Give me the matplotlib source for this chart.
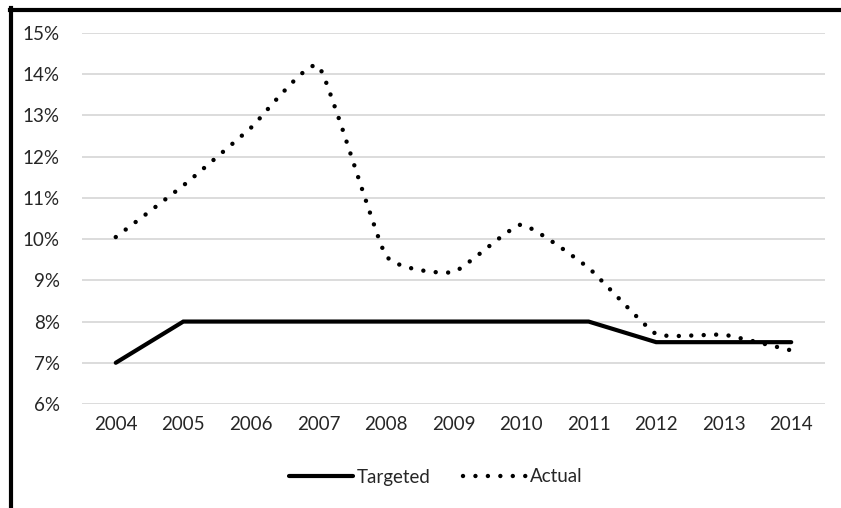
import numpy as np
import matplotlib
matplotlib.use('Agg')
import matplotlib.pyplot as plt
from matplotlib.path import Path
from matplotlib.patches import PathPatch
from matplotlib.lines import Line2D
from matplotlib.ticker import FuncFormatter

plt.rcParams['font.family'] = ['Lato', 'DejaVu Sans']

years = ['2004', '2005', '2006', '2007', '2008', '2009', '2010', '2011', '2012', '2013', '2014']
targeted = [7.0, 8.0, 8.0, 8.0, 8.0, 8.0, 8.0, 8.0, 7.5, 7.5, 7.5]
actual = [10.05, 11.3, 12.7, 14.2, 9.6, 9.2, 10.35, 9.3, 7.7, 7.68, 7.3]

txt = '#262626'
dot_style = (0, (0.001, 2.8))

fig = plt.figure(figsize=(8.41, 5.08), dpi=100)
ax = fig.add_axes([82/841, 104/508, 743/841, 371/508])

x = np.arange(len(years))
ax.plot(x, targeted, color='black', lw=3.0, solid_capstyle='round', solid_joinstyle='miter', zorder=3)


# lightly smoothed line (bezier through the points)
def smooth_path(xs, ys, k=0.07):
    pts = np.column_stack([xs, ys]).astype(float)
    n = len(pts)
    verts = [pts[0]]
    codes = [Path.MOVETO]
    for i in range(n - 1):
        p0 = pts[i - 1] if i > 0 else pts[i]
        p1 = pts[i]
        p2 = pts[i + 1]
        p3 = pts[i + 2] if i + 2 < n else pts[i + 1]
        c1 = p1 + (p2 - p0) * k
        c2 = p2 - (p3 - p1) * k
        verts += [c1, c2, p2]
        codes += [Path.CURVE4] * 3
    return Path(verts, codes)


patch = PathPatch(smooth_path(x, actual), facecolor='none', edgecolor='black',
                  lw=3.2, linestyle=dot_style, capstyle='round', zorder=4)
ax.add_patch(patch)

ax.set_xlim(-0.5, len(years) - 0.5)
ax.set_ylim(6, 15)
ax.set_yticks(np.arange(6, 16, 1))
ax.yaxis.set_major_formatter(FuncFormatter(lambda v, p: f'{v:.0f}%'))
ax.set_xticks(x)
ax.set_xticklabels(years)
ax.grid(axis='y', color='#d9d9d9', lw=1.3)
ax.set_axisbelow(True)
for s in ax.spines.values():
    s.set_visible(False)
ax.tick_params(length=0, labelsize=13.5, colors=txt, pad=9)
ax.tick_params(axis='y', pad=16)

handles = [Line2D([], [], color='black', lw=3.0, solid_capstyle='round'),
           Line2D([], [], color='black', lw=3.2, linestyle=dot_style, dash_capstyle='round')]
fig.legend(handles, ['Targeted', 'Actual'], loc='center', bbox_to_anchor=(436/841, 31/508),
           ncol=2, frameon=False, fontsize=13.5, handlelength=3.4, handletextpad=0.2,
           columnspacing=1.7, labelcolor=txt)

# black border on top and left
fig.add_artist(Line2D([10/841, 1], [1 - 9.5/508, 1 - 9.5/508], color='black', lw=3, transform=fig.transFigure))
fig.add_artist(Line2D([10.5/841, 10.5/841], [0, 1 - 8/508], color='black', lw=3, transform=fig.transFigure))

fig.savefig('out.png', dpi=100)
